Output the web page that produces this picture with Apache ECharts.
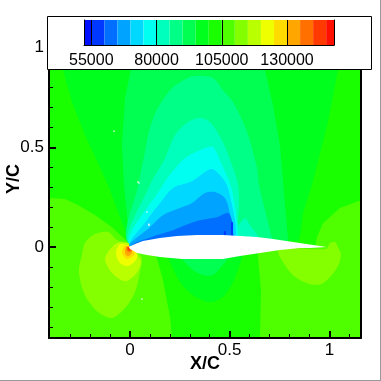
<!DOCTYPE html>
<html><head><meta charset="utf-8">
<style>html,body{margin:0;padding:0;background:#fff}#c{width:381px;height:381px}</style>
<script src="https://cdn.jsdelivr.net/npm/echarts@6/dist/echarts.min.js"></script>
</head><body><div id="c"></div>
<script>
// colour bar
const bandEdges = [52200,55000,60000,65000,70000,75000,80000,85000,90000,95000,100000,105000,110000,115000,120000,125000,130000,135000,140000,145000,148000];
const bandColors = ['#000fff','#0038ff','#006eff','#00a3ff','#00d8ff','#00fff1','#00ffbc','#00ff86','#00ff51','#00ff1c','#1aff00','#4fff00','#84ff00','#b9ff00','#efff00','#ffdb00','#ffa600','#ff7000','#ff3a00','#ff0f00'];
const legendTicks = [55000,80000,105000,130000];
const xMajor = [0,0.5,1];
const yMajor = [0,0.5,1];
const xMinor = [-0.3,-0.2,-0.1,0.1,0.2,0.3,0.4,0.6,0.7,0.8,0.9,1.1];
const yMinor = [-0.4,-0.3,-0.2,-0.1,0.1,0.2,0.3,0.4,0.6,0.7,0.8,0.9,1.1];

// pressure contours (X/C, Y/C); band index -> bandColors
const fieldBase = [[-0.41,1.14],[1.16,1.14],[1.16,-0.46],[-0.41,-0.46]];
const lowerLeft107 = [[-0.41,0.246],[-0.326,0.241],[-0.261,0.211],[-0.176,0.161],[-0.09,0.1],[0,0.015],[0.1,-0.025],[0.135,-0.055],[0.165,-0.165],[0.201,-0.351],[0.211,-0.46],[-0.41,-0.46]];
const lowerRight107 = [[0.642,-0.025],[0.642,-0.05],[0.657,-0.216],[0.652,-0.46],[1.16,-0.46],[1.16,0.236],[1.053,0.196],[0.968,0.12],[0.938,0.05],[0.928,0]];
const lowerLeft112 = [[0,0.015],[-0.065,0.035],[-0.11,0.075],[-0.176,0.065],[-0.226,0.02],[-0.241,-0.04],[-0.256,-0.125],[-0.226,-0.241],[-0.16,-0.326],[-0.09,-0.356],[-0.025,-0.306],[0.025,-0.226],[0.05,-0.125],[0.06,-0.055],[0.035,-0.025]];
const lowerRight112 = [[0.747,-0.005],[0.747,-0.04],[0.817,-0.14],[0.903,-0.186],[0.968,-0.181],[1.038,-0.105],[1.058,-0.04],[1.043,0],[1.028,0.025],[1.003,0.02],[0.983,-0.01]];
const nose117 = [[-0.01,0.02],[-0.065,0.02],[-0.11,-0.025],[-0.125,-0.065],[-0.09,-0.13],[-0.025,-0.171],[0.025,-0.14],[0.055,-0.08],[0.035,-0.035],[0.005,0.005]];
const nose122 = [[-0.01,0.01],[-0.05,0.015],[-0.07,-0.03],[-0.05,-0.08],[-0.01,-0.095],[0.03,-0.065],[0.035,-0.035],[0.005,0]];
const nose127 = [[-0.015,0.005],[-0.025,0.01],[-0.04,-0.03],[-0.015,-0.06],[0.01,-0.05],[0.025,-0.03],[0.005,0]];
const nose132 = [[-0.02,0],[-0.025,-0.03],[-0.01,-0.045],[0.01,-0.03],[0.005,-0.005],[-0.01,0.005]];
const nose137 = [[-0.015,0],[-0.015,-0.02],[0,-0.025],[0.01,-0.015],[0,0]];
const nose142 = [[-0.01,0],[-0.01,-0.015],[0.005,-0.015],[0,-0.005]];
const upper97 = [[-0.336,1.14],[-0.336,0.888],[-0.291,0.727],[-0.226,0.562],[-0.11,0.311],[0,0.015],[0.842,0.03],[0.852,0.05],[0.868,0.17],[0.913,0.311],[0.993,0.627],[1.043,0.888],[1.043,1.14]];
const upper92 = [[0.005,1.14],[0.005,0.888],[-0.025,0.747],[-0.04,0.512],[-0.03,0.311],[0,0.015],[0.792,0.03],[0.792,0.045],[0.767,0.336],[0.752,0.512],[0.717,0.712],[0.677,0.888],[0.677,1.14]];
const upper87 = [[0,0.015],[0.045,0.326],[0.075,0.476],[0.1,0.597],[0.14,0.697],[0.211,0.797],[0.301,0.853],[0.351,0.858],[0.416,0.848],[0.466,0.787],[0.517,0.727],[0.587,0.577],[0.637,0.396],[0.647,0.311],[0.712,0.045],[0.712,0.03]];
const upper82 = [[0,0.015],[0.1,0.311],[0.176,0.446],[0.226,0.562],[0.291,0.627],[0.351,0.647],[0.401,0.627],[0.466,0.527],[0.517,0.396],[0.542,0.311],[0.547,0.211],[0.542,0.11],[0.577,0.145],[0.602,0.11],[0.642,0.055],[0.642,0.03]];
const upper77 = [[0,0.015],[0.165,0.311],[0.211,0.376],[0.276,0.446],[0.376,0.497],[0.416,0.502],[0.451,0.436],[0.491,0.346],[0.511,0.286],[0.532,0.171],[0.542,0.07],[0.542,0.03]];
const upper72 = [[0.005,0.01],[0.085,0.135],[0.15,0.22],[0.216,0.296],[0.301,0.326],[0.336,0.346],[0.376,0.376],[0.411,0.391],[0.451,0.361],[0.486,0.311],[0.506,0.236],[0.527,0.135],[0.532,0.07],[0.532,0.03]];
const upper67 = [[0,0.005],[0.1,0.1],[0.165,0.16],[0.251,0.196],[0.311,0.221],[0.376,0.271],[0.426,0.276],[0.476,0.246],[0.501,0.171],[0.517,0.07],[0.517,0.03]];
const upper62 = [[0.015,0.01],[0.135,0.06],[0.216,0.085],[0.276,0.11],[0.351,0.135],[0.436,0.15],[0.491,0.171],[0.511,0.135],[0.517,0.07],[0.517,0.03]];
const sliverA57 = [[0.506,0.125],[0.517,0.125],[0.517,0.055],[0.506,0.055]];
const sliverB57 = [[0.471,0.08],[0.481,0.08],[0.481,0.055],[0.471,0.055]];
const under97 = [[0.191,-0.045],[0.191,-0.055],[0.251,-0.175],[0.316,-0.241],[0.401,-0.276],[0.466,-0.251],[0.517,-0.175],[0.562,-0.055],[0.567,-0.03]];
const under92 = [[0.261,-0.04],[0.261,-0.06],[0.316,-0.115],[0.366,-0.14],[0.416,-0.14],[0.466,-0.09],[0.491,-0.055],[0.491,-0.04]];
const airfoil = [[-0.005,0],[0.025,0.015],[0.065,0.03],[0.15,0.045],[0.236,0.055],[0.336,0.06],[0.466,0.06],[0.552,0.055],[0.637,0.05],[0.717,0.04],[0.817,0.025],[0.918,0.01],[0.985,0],[0.903,-0.005],[0.852,-0.005],[0.752,-0.015],[0.652,-0.03],[0.552,-0.045],[0.466,-0.06],[0.261,-0.06],[0.15,-0.05],[0.085,-0.04],[0.035,-0.03],[0,-0.01]];
const strayPoints = [[-0.08,0.581],[0.04,0.326],[0.045,0.321],[0.085,0.176],[0.095,0.115],[0.095,0.11],[0.06,-0.261]];

// painted back to front: [band index, ring, rounded outline?]
const contourOrder = [
 [10,fieldBase,0],[11,lowerLeft107,0],[11,lowerRight107,0],[12,lowerLeft112,1],[12,lowerRight112,1],
 [13,nose117,1],[14,nose122,1],[15,nose127,1],[16,nose132,1],[17,nose137,1],[18,nose142,1],
 [9,upper97,0],[8,upper92,0],[7,upper87,1],[6,upper82,1],[5,upper77,1],[4,upper72,1],[3,upper67,1],[2,upper62,1],
 [1,sliverA57,0],[1,sliverB57,0],[9,under97,1],[8,under92,1]
];

const FONT = '"Liberation Sans", Arial, sans-serif';
const noLine = {show:false};
const chart = echarts.init(document.getElementById('c'), null, {renderer:'canvas'});
function ringItem(ring, fill, api, smooth){
  return {type:'polygon', shape:{points:ring.map(p=>api.coord(p)), smooth:smooth?0.3:0}, style:{fill:fill, stroke:null}};
}
const xRange = {min:-0.406, max:1.1585};
const yRange = {min:-0.456, max:1.1388};
chart.setOption({
  animation:false,
  backgroundColor:'#fff',
  grid:[
    {left:49, top:20, width:312, height:318, z:0, outerBoundsMode:'none', containLabel:false},
    {left:84, top:20, width:250, height:25, z:11, outerBoundsMode:'none', containLabel:false}
  ],
  xAxis:[
    Object.assign({type:'value', gridIndex:0, position:'bottom', z:5, splitLine:noLine,
      name:'X/C', nameLocation:'middle', nameGap:26, nameMoveOverlap:false,
      nameTextStyle:{fontFamily:FONT, fontWeight:'bold', fontSize:18, color:'#000', verticalAlign:'middle'},
      axisLine:{show:true, onZero:false, lineStyle:{color:'#000', width:2}},
      axisTick:{show:true, inside:true, length:7, customValues:xMajor, lineStyle:{color:'#000', width:2}},
      axisLabel:{show:true, customValues:xMajor, margin:4, fontFamily:FONT, fontSize:17, color:'#000',
        formatter:v=>String(v)}}, xRange),
    Object.assign({type:'value', gridIndex:0, position:'bottom', z:5, splitLine:noLine,
      axisLine:{show:false, onZero:false},
      axisTick:{show:true, inside:true, length:4, customValues:xMinor, lineStyle:{color:'#000', width:1}},
      axisLabel:{show:false}}, xRange),
    {type:'value', gridIndex:1, position:'bottom', z:13, min:52200, max:148000, splitLine:noLine,
      axisLine:{show:true, onZero:false, lineStyle:{color:'#000', width:1}},
      axisTick:{show:true, inside:true, length:25, customValues:legendTicks, lineStyle:{color:'#000', width:1}},
      axisLabel:{show:true, customValues:legendTicks, margin:8, fontFamily:FONT, fontSize:16, color:'#000',
        formatter:v=>String(v)}}
  ],
  yAxis:[
    Object.assign({type:'value', gridIndex:0, position:'left', z:5, splitLine:noLine,
      name:'Y/C', nameLocation:'middle', nameGap:35, nameMoveOverlap:false,
      nameTextStyle:{fontFamily:FONT, fontWeight:'bold', fontSize:18, color:'#000', verticalAlign:'middle'},
      axisLine:{show:true, onZero:false, lineStyle:{color:'#000', width:2}},
      axisTick:{show:true, inside:true, length:7, customValues:yMajor, lineStyle:{color:'#000', width:2}},
      axisLabel:{show:true, customValues:yMajor, margin:5, fontFamily:FONT, fontSize:17, color:'#000',
        formatter:v=>String(v)}}, yRange),
    Object.assign({type:'value', gridIndex:0, position:'left', z:5, splitLine:noLine,
      axisLine:{show:false, onZero:false},
      axisTick:{show:true, inside:true, length:4, customValues:yMinor, lineStyle:{color:'#000', width:1}},
      axisLabel:{show:false}}, yRange),
    Object.assign({type:'value', gridIndex:0, position:'right', z:5, splitLine:noLine,
      axisLine:{show:true, onZero:false, lineStyle:{color:'#000', width:2}},
      axisTick:{show:false}, axisLabel:{show:false}}, yRange),
    {type:'value', gridIndex:1, position:'left', z:13, min:0, max:1, splitLine:noLine,
      axisLine:{show:true, onZero:false, lineStyle:{color:'#000', width:1}}, axisTick:{show:false}, axisLabel:{show:false}},
    {type:'value', gridIndex:1, position:'right', z:13, min:0, max:1, splitLine:noLine,
      axisLine:{show:true, onZero:false, lineStyle:{color:'#000', width:1}}, axisTick:{show:false}, axisLabel:{show:false}}
  ],
  graphic:[
    {type:'rect', z:10, shape:{x:47.5,y:16.5,width:324,height:53}, style:{fill:'#fff', stroke:'#000', lineWidth:1}},
    {type:'rect', z:30, shape:{x:380,y:0,width:1,height:381}, style:{fill:'#999'}},
    {type:'rect', z:30, shape:{x:0,y:380,width:381,height:1}, style:{fill:'#999'}}
  ],
  series:[
    {type:'custom', coordinateSystem:'cartesian2d', xAxisIndex:0, yAxisIndex:0, z:2, clip:true, silent:true,
      data:contourOrder.map((c,i)=>[i]),
      encode:{x:0},
      renderItem:function(params, api){
        const c = contourOrder[params.dataIndex];
        return ringItem(c[1], bandColors[c[0]], api, c[2]);
      }},
    {type:'custom', coordinateSystem:'cartesian2d', xAxisIndex:0, yAxisIndex:0, z:3, clip:true, silent:true,
      data:[[0]], encode:{x:0},
      renderItem:function(params, api){ return ringItem(airfoil, '#fff', api, 0); }},
    {type:'scatter', xAxisIndex:0, yAxisIndex:0, z:4, silent:true, symbol:'rect', symbolSize:1.5,
      itemStyle:{color:'#fff'}, data:strayPoints},
    {type:'custom', coordinateSystem:'cartesian2d', xAxisIndex:2, yAxisIndex:3, z:12, silent:true,
      data:bandColors.map((c,i)=>[bandEdges[i], bandEdges[i+1]]),
      encode:{x:[0,1]},
      renderItem:function(params, api){
        const a = api.coord([api.value(0),1]), b = api.coord([api.value(1),0]);
        return {type:'rect', shape:{x:a[0], y:a[1], width:b[0]-a[0], height:b[1]-a[1]},
                style:{fill:bandColors[params.dataIndex], stroke:null}};
      }}
  ]
});
</script></body></html>
